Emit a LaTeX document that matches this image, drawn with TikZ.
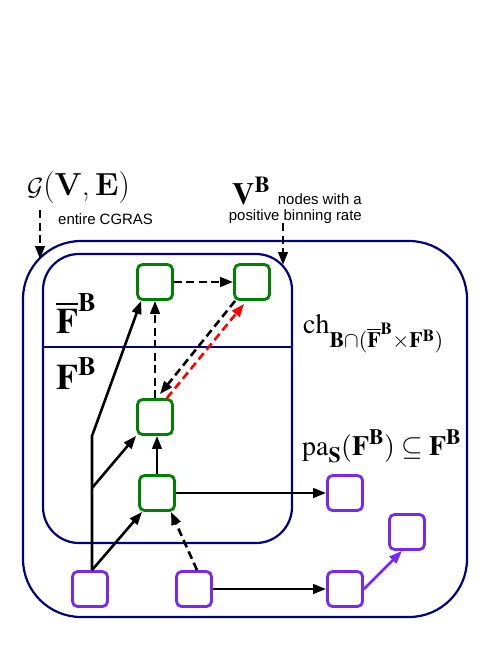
\documentclass[tikz,border=0pt]{standalone}
\usepackage{mathptmx}
\usepackage[no-math]{fontspec}
\newfontfamily\notefont{Liberation Sans}
\newfontfamily\lmfont{Latin Modern Roman}
\DeclareMathAlphabet{\cmcal}{OMS}{lmsy}{m}{n}
\DeclareMathSizes{28}{28}{22}{17}
\usepackage{tikz}
\usetikzlibrary{arrows.meta, positioning}
\definecolor{framenavy}{RGB}{0,0,128}
\definecolor{setgreen}{RGB}{0,128,0}
\definecolor{nodepurple}{RGB}{120,40,245}

\begin{document}
\begin{tikzpicture}[x=1bp, y=-1bp, >={Triangle[length=13bp,width=9.5bp]},
    box/.style={draw, rounded corners=5bp, line width=2.8bp, minimum size=35bp, inner sep=0pt},
    greenbox/.style={box, setgreen},
    purplebox/.style={box, nodepurple},
    link/.style={->, line width=2.6bp},
    dashlink/.style={link, dash pattern=on 8bp off 4.5bp},
    frame/.style={draw=framenavy, line width=2.2bp},
    note/.style={font=\notefont\fontsize{15}{15}\selectfont, inner sep=0pt}]
        \useasboundingbox (0,0) rectangle (498,645);

        % Frames
        \draw[frame, rounded corners=58bp] (23,241) rectangle (467,617);
        \draw[frame, rounded corners=36bp] (43,254) rectangle (292,543);
        \draw[frame] (43,347) -- (292,347);

        % Labels
        \node[anchor=base west, inner sep=0pt] (graph) at (27,195) {\lmfont\fontsize{32}{34}\selectfont $\cmcal{G}$(\textbf{V},\,\textbf{E})};
        \node[note, anchor=base west] (cgras) at (58,224) {entire CGRAS};
        \node[anchor=base west, inner sep=0pt] (vb) at (232,204) {\fontsize{31}{32}\selectfont $\mathbf{V}^{\mathbf{B}}$};
        \node[note, anchor=base east] (vbnote) at (362,204) {nodes with a};
        \node[note, anchor=base east] (vbnote2) at (362,220) {positive binning rate};
        \node[anchor=base west, inner sep=0pt] (fbar) at (56,333) {\fontsize{36}{38}\selectfont $\overline{\mathbf{F}}^{\mathbf{B}}$};
        \node[anchor=base west, inner sep=0pt] (fset) at (56,389) {\fontsize{36}{38}\selectfont $\mathbf{F}^{\mathbf{B}}$};
        \node[anchor=base west, inner sep=0pt] (children) at (303,333) {\fontsize{28}{30}\selectfont $\mathrm{ch}_{\mathbf{B}\cap(\overline{\mathbf{F}}^{\mathbf{B}}\times\mathbf{F}^{\mathbf{B}})}$};
        \node[anchor=base west, inner sep=0pt] (parents) at (302,455) {\fontsize{28}{30}\selectfont $\mathrm{pa}_{\mathbf{S}}(\mathbf{F}^{\mathbf{B}})\subseteq\mathbf{F}^{\mathbf{B}}$};

        % Pointers to the frames
        \coordinate (gtip) at (40,259);
        \coordinate (vbtip) at (283,265);
        \draw[dashlink] (40,210) -- (gtip);
        \draw[dashlink] (283,223) -- (vbtip);

        % Nodes in F^B and its complement
        \node[greenbox] (fa) at (155,282) {};
        \node[greenbox] (fb) at (252,282) {};
        \node[greenbox] (fc) at (155,417) {};
        \node[greenbox] (fd) at (157,493) {};

        % Nodes outside
        \node[purplebox] (p1) at (90,589) {};
        \node[purplebox] (p2) at (194,589) {};
        \node[purplebox] (p3) at (345,589) {};
        \node[purplebox] (p4) at (345,493) {};
        \node[purplebox] (p5) at (407,532) {};

        % Edges
        \coordinate (trunk) at (92,436);
        \coordinate (fork) at (92,488);
        \draw[link] ([xshift=2pt]p1.north) -- (trunk) -- ([xshift=5pt]fa.south west);
        \draw[link] (fork) -- (fc.south west);
        \draw[link] ([xshift=2pt]p1.north) -- ([xshift=4pt]fd.south west);
        \draw[dashlink] ([xshift=3pt]p2.north) -- ([xshift=-5pt]fd.south east);
        \draw[link] (fd.north) -- (fd.north |- fc.south);
        \draw[link] (fd.east) -- (p4.west);
        \draw[link] (p2.east) -- (p3.west);
        \draw[link, nodepurple] (p3.east) -- ([xshift=-5pt]p5.south);
        \draw[dashlink] (fc.north) -- (fa.south);
        \draw[dashlink] (fa.east) -- (fb.west);
        \draw[dashlink] ([xshift=2pt]fb.south west) -- ([xshift=5pt, yshift=4pt]fc.north);
        \draw[dashlink, red] ([xshift=12pt]fc.north) -- ([xshift=11pt, yshift=-3pt]fb.south west);
    \end{tikzpicture}
\end{document}
